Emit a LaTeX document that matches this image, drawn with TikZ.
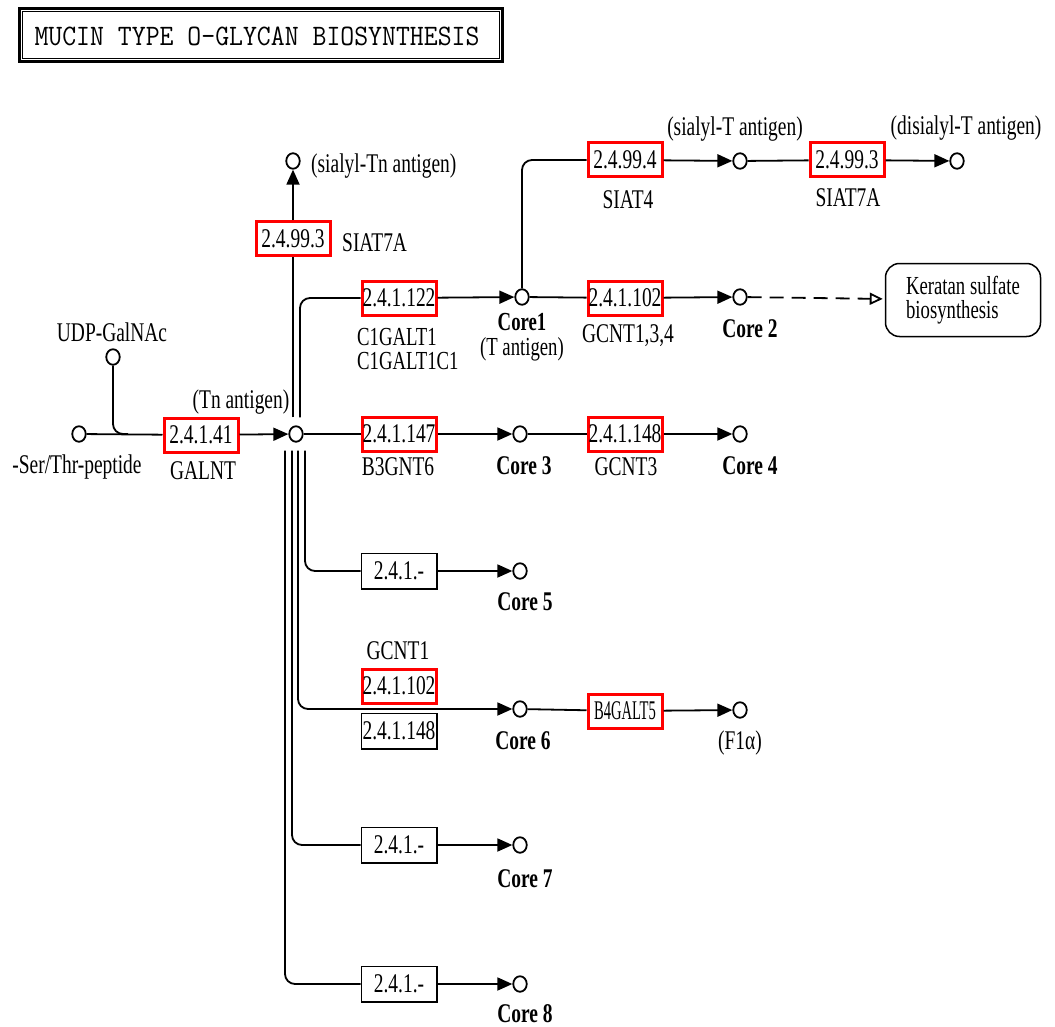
\documentclass[tikz,border=0pt]{standalone}
\usepackage{fontspec}
\setmainfont{Liberation Serif}
\newfontfamily\kegg[FakeStretch=0.72]{Liberation Serif}
\usetikzlibrary{arrows.meta,shapes.geometric}
\begin{document}
\begin{tikzpicture}[x=1pt,y=-1pt,
  ln/.style={line width=1.8pt},
  arr/.style={ln,-{Triangle[length=15pt,width=13pt]}},
  cpd/.style={ellipse,draw,line width=1.8pt,minimum width=13.5pt,minimum height=15.5pt,inner sep=0pt},
  enz/.style={draw,line width=1.5pt,minimum width=75.5pt,minimum height=35.5pt,inner sep=0pt,font=\kegg\fontsize{27}{28}\selectfont},
  renz/.style={enz,draw=red,line width=3pt,minimum width=74pt,minimum height=34pt},
  lbl/.style={inner sep=0pt,font=\kegg\fontsize{27}{28}\selectfont},
  blbl/.style={inner sep=0pt,font=\kegg\bfseries\fontsize{27}{28}\selectfont},
]
\useasboundingbox (0,0) rectangle (1055,1027);
\fill[white] (0,0) rectangle (1055,1027);

% title
\node[draw,line width=3.5pt,minimum width=483pt,minimum height=53pt,inner sep=0pt] (title) at (261,35) {};
\draw[line width=1.1pt] ([xshift=4.5pt,yshift=-4.5pt]title.north west) rectangle ([xshift=-4.5pt,yshift=4.5pt]title.south east);
\node[inner sep=0pt,font=\ttfamily\fontsize{27}{30}\selectfont] (titlet) at (257,36) {\scalebox{1}[1.1]{MUCIN TYPE O-GLYCAN BIOSYNTHESIS}};

% start
\node[cpd] (ser) at (79,434) {};
\node[lbl] (serl) at (77,467) {-Ser/Thr-peptide};
\node[cpd] (udp) at (113,357) {};
\node[lbl] (udpl) at (112,332) {UDP-GalNAc};
\coordinate (j1) at (128,434);
\node[renz] (galnt) at (201,435) {2.4.1.41};
\node[lbl] (galntl) at (203,471) {GALNT};
\node[lbl] (tnl) at (241,402) {(Tn antigen)};
\node[cpd] (tn) at (296,434) {};
\draw[ln] (ser) -- (galnt);
\draw[ln,rounded corners=10pt] (udp) |- (j1);
\draw[arr] (galnt) -- (tn);

% sialyl-Tn
\node[cpd] (stn) at (293,161) {};
\node[lbl,anchor=west] (stnl) at (311,166) {(sialyl-Tn antigen)};
\node[renz] (siat7a1) at (293,239) {2.4.99.3};
\node[lbl,anchor=west] (siat7a1l) at (342,243) {SIAT7A};
\draw[ln] ([xshift=-3pt,yshift=8pt]tn.north) -- (siat7a1);
\draw[arr] (siat7a1) -- (stn);

% core 1
\node[renz] (c1galt) at (399,298) {2.4.1.122};
\node[lbl,anchor=north west,align=left,font=\kegg\fontsize{26}{24}\selectfont] (c1l) at (357,328) {C1GALT1\\C1GALT1C1};
\draw[ln,rounded corners=10pt] ([xshift=4pt,yshift=8pt]tn.north) |- (c1galt.west);
\node[cpd] (core1) at (522,297) {};
\draw[arr] (c1galt) -- (core1);
\node[lbl,align=center,font=\kegg\fontsize{26}{25}\selectfont] (core1l) at (522,337) {\textbf{Core1}\\(T antigen)};

% sialyl-T
\node[renz] (siat4) at (625,160) {2.4.99.4};
\node[lbl] (siat4l) at (628,200) {SIAT4};
\draw[ln,rounded corners=10pt] (core1) |- (siat4.west);
\node[cpd] (st) at (740,161) {};
\node[lbl] (stl) at (735,129) {(sialyl-T antigen)};
\draw[arr] (siat4) -- (st);
\node[renz] (siat7a2) at (847,160) {2.4.99.3};
\node[lbl] (siat7a2l) at (848,198) {SIAT7A};
\draw[ln] (st) -- (siat7a2);
\node[cpd] (dst) at (957,161) {};
\node[lbl] (dstl) at (966,128) {(disialyl-T antigen)};
\draw[arr] (siat7a2) -- (dst);

% core 2
\node[renz] (gcnt134) at (625,298) {2.4.1.102};
\node[lbl] (gcnt134l) at (628,336) {GCNT1,3,4};
\draw[ln] (core1) -- (gcnt134);
\node[cpd] (core2) at (740,297) {};
\draw[arr] (gcnt134) -- (core2);
\node[blbl] (core2l) at (750,329) {Core 2};
\node[draw,rounded corners=14pt,line width=1.5pt,minimum width=155pt,minimum height=73pt,inner sep=0pt,align=left,font=\kegg\fontsize{26}{24}\selectfont] (ks) at (963,300) {Keratan sulfate\\biosynthesis};
\draw[ln,dash pattern=on 14pt off 8pt,-{Triangle[open,length=13pt,width=12pt]},shorten >=2pt] (core2) -- (ks);

% core 3 / 4
\node[renz] (b3gnt6) at (399,434) {2.4.1.147};
\node[lbl] (b3gnt6l) at (398,467) {B3GNT6};
\draw[ln] (tn) -- (b3gnt6);
\node[cpd] (core3) at (520,434) {};
\draw[arr] (b3gnt6) -- (core3);
\node[blbl] (core3l) at (524,466) {Core 3};
\node[renz] (gcnt3) at (625,434) {2.4.1.148};
\node[lbl] (gcnt3l) at (626,467) {GCNT3};
\draw[ln] (core3) -- (gcnt3);
\node[cpd] (core4) at (740,434) {};
\draw[arr] (gcnt3) -- (core4);
\node[blbl] (core4l) at (750,466) {Core 4};

% core 5
\node[enz] (e5) at (399,571) {2.4.1.-};
\draw[ln,rounded corners=10pt] ([xshift=9pt,yshift=-8pt]tn.south) |- (e5.west);
\node[cpd] (core5) at (520,571) {};
\draw[arr] (e5) -- (core5);
\node[blbl] (core5l) at (525,602) {Core 5};

% core 6
\node[renz] (gcnt1) at (399,686) {2.4.1.102};
\node[enz] (e6b) at (399,731) {2.4.1.148};
\node[lbl] (gcnt1l) at (398,651) {GCNT1};
\node[cpd] (core6) at (520,709) {};
\draw[arr,rounded corners=10pt] ([xshift=2pt,yshift=-8pt]tn.south) |- (core6);
\node[blbl] (core6l) at (523,741) {Core 6};
\node[renz] (b4galt5) at (625,711) {\scalebox{0.75}[1]{B4GALT5}};
\draw[ln] (core6) -- (b4galt5);
\node[cpd] (f1a) at (740,710) {};
\draw[arr] (b4galt5) -- (f1a);
\node[lbl] (f1al) at (740,743) {(F1α)};

% core 7
\node[enz] (e7) at (399,845) {2.4.1.-};
\draw[ln,rounded corners=10pt] ([xshift=-4pt,yshift=-8pt]tn.south) |- (e7.west);
\node[cpd] (core7) at (520,845) {};
\draw[arr] (e7) -- (core7);
\node[blbl] (core7l) at (525,879) {Core 7};

% core 8
\node[enz] (e8) at (399,984) {2.4.1.-};
\draw[ln,rounded corners=10pt] ([xshift=-11pt,yshift=-8pt]tn.south) |- (e8.west);
\node[cpd] (core8) at (520,984) {};
\draw[arr] (e8) -- (core8);
\node[blbl] (core8l) at (525,1014) {Core 8};
\end{tikzpicture}
\end{document}
